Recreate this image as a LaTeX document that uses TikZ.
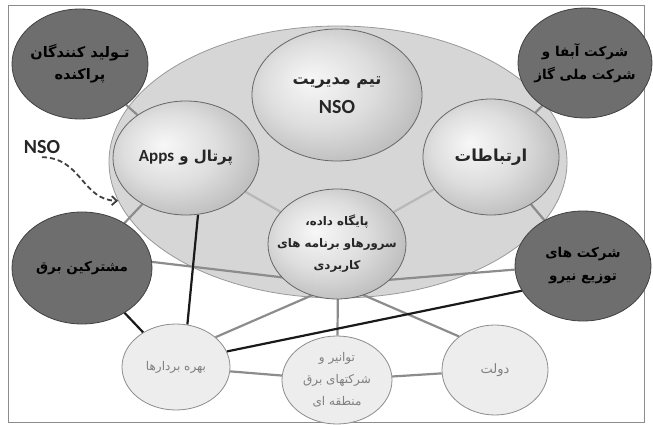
\documentclass[tikz,border=0pt]{standalone}
\usepackage{fontspec}
\usetikzlibrary{shapes.geometric,arrows.meta}
\newfontfamily\arabicfont[Script=Arabic]{DejaVu Sans}
\newfontfamily\latinfont{Carlito}
\TeXXeTstate=1
\pgfdeclareradialshading{sphereshade}{\pgfpoint{-8bp}{6bp}}{color(0bp)=(black!3); color(16bp)=(black!13); color(38bp)=(black!34); color(50bp)=(black!48)}
\pgfdeclarelayer{back}
\pgfdeclarelayer{lines}
\pgfsetlayers{back,lines,main}

\begin{document}
\begin{tikzpicture}[x=1pt, y=-1pt,
    ring/.style={ellipse, draw=black!40, line width=0.8pt, fill=black!16},
    sphere/.style={ellipse, draw=black!60, line width=0.8pt, shading=sphereshade},
    darkball/.style={ellipse, draw=black!75, line width=0.8pt, fill=black!57},
    paleball/.style={ellipse, draw=black!45, line width=0.8pt, fill=black!7},
    spheretext/.style={align=center, text=black!85, font=\arabicfont\bfseries\fontsize{15}{24}\selectfont},
    darktext/.style={align=center, font=\arabicfont\bfseries\fontsize{13.5}{23}\selectfont},
    paletext/.style={align=center, text=black!50, font=\arabicfont\fontsize{12}{22}\selectfont},
    greyline/.style={draw=black!45, line width=2.2pt},
    paleline/.style={draw=black!28, line width=2.2pt},
    darkline/.style={draw=black!90, line width=2.2pt}]
    \useasboundingbox (0,0) rectangle (653,425);

    % Frame
    \begin{pgfonlayer}{back}
    \draw[black!45, line width=0.8pt] (8,5) rectangle (644,422);
    % Big ring
    \node[ring, minimum width=458pt, minimum height=272pt] (ring) at (338,162) {};
    \end{pgfonlayer}

    % Inner spheres
    \node[sphere, minimum width=170pt, minimum height=132pt,
        label={[spheretext, font=\arabicfont\bfseries\fontsize{16}{29}\selectfont]center:\beginR تیم مدیریت\endR\\{\latinfont\bfseries\fontsize{20}{22}\selectfont NSO}}] (nso) at (337,95) {};
    \node[sphere, minimum width=146pt, minimum height=114pt,
        label={[spheretext]center:\beginR پرتال و \beginL{\latinfont\bfseries\fontsize{17}{20}\selectfont Apps}\endL\endR}] (portal) at (186,158) {};
    \node[sphere, minimum width=136pt, minimum height=116pt,
        label={[spheretext, font=\arabicfont\bfseries\fontsize{16.5}{24}\selectfont]center:\beginR ارتباطات\endR}] (ertebat) at (491,157) {};
    \node[sphere, minimum width=138pt, minimum height=110pt,
        label={[spheretext, font=\arabicfont\bfseries\fontsize{11.8}{22}\selectfont]center:\beginR پایگاه داده،\endR\\\beginR سرورهاو برنامه های\endR\\\beginR کاربردی\endR}] (db) at (337,244) {};

    % Dark circles
    \node[darkball, minimum width=136pt, minimum height=110pt,
        label={[darktext, font=\arabicfont\bfseries\fontsize{14.5}{22}\selectfont]center:\beginR تـولید کنندگان\endR\\\beginR پراکنده\endR}] (tolid) at (80,64) {};
    \node[darkball, minimum width=134pt, minimum height=110pt,
        label={[darktext]center:\beginR شرکت آبفا و\endR\\\beginR شرکت ملی گاز\endR}] (abfa) at (585,63) {};
    \node[darkball, minimum width=140pt, minimum height=112pt,
        label={[darktext]center:\beginR مشترکین برق\endR}] (mash) at (82,268) {};
    \node[darkball, minimum width=136pt, minimum height=110pt,
        label={[darktext]center:\beginR شرکت های\endR\\\beginR توزیع نیرو\endR}] (tozi) at (583,266) {};

    % Pale circles
    \node[paleball, minimum width=108pt, minimum height=86pt,
        label={[paletext]center:\beginR بهره بردارها\endR}] (bahre) at (176,367) {};
    \node[paleball, minimum width=110pt, minimum height=88pt,
        label={[paletext]center:\beginR توانیر و\endR\\\beginR شرکتهای برق\endR\\\beginR منطقه ای\endR}] (tavanir) at (337,380) {};
    \node[paleball, minimum width=106pt, minimum height=90pt,
        label={[paletext, font=\arabicfont\fontsize{13}{22}\selectfont]center:\beginR دولت\endR}] (dolat) at (495,370) {};

    % NSO label
    \node[font=\latinfont\bfseries\fontsize{20}{22}\selectfont, text=black!85] (nsolabel) at (42,147) {NSO};
    \coordinate (hub) at (338,284);

    % Connectors
    \begin{pgfonlayer}{lines}
    \draw[greyline] (tolid) -- (portal);
    \draw[greyline] (abfa) -- (ertebat);
    \draw[greyline] (mash) -- (portal);
    \draw[greyline] (tozi) -- (ertebat);
    \draw[paleline] (portal) -- (db);
    \draw[paleline] (ertebat) -- (db);
    \draw[greyline] (mash.5) -- (hub);
    \draw[greyline] (tozi.183) -- (hub);
    \draw[greyline] (bahre.37) -- (hub);
    \draw[greyline] (hub) -- (dolat.137);
    \draw[greyline] (hub) -- (tavanir);
    \draw[greyline] (bahre) -- (tavanir);
    \draw[greyline] (tavanir) -- (dolat);
    \draw[darkline] (portal.-78) -- (bahre.75);
    \draw[darkline] (mash) -- (bahre);
    \draw[darkline] (bahre.17) -- (tozi.202);
    \end{pgfonlayer}

    % Dashed arrow
    \draw[black!75, line width=1.8pt, dash pattern=on 5pt off 3pt, -{Straight Barb[length=5pt, width=9pt]}] (nsolabel.south) .. controls (82,158) and (82,200) .. (ring.190);
\end{tikzpicture}
\end{document}
